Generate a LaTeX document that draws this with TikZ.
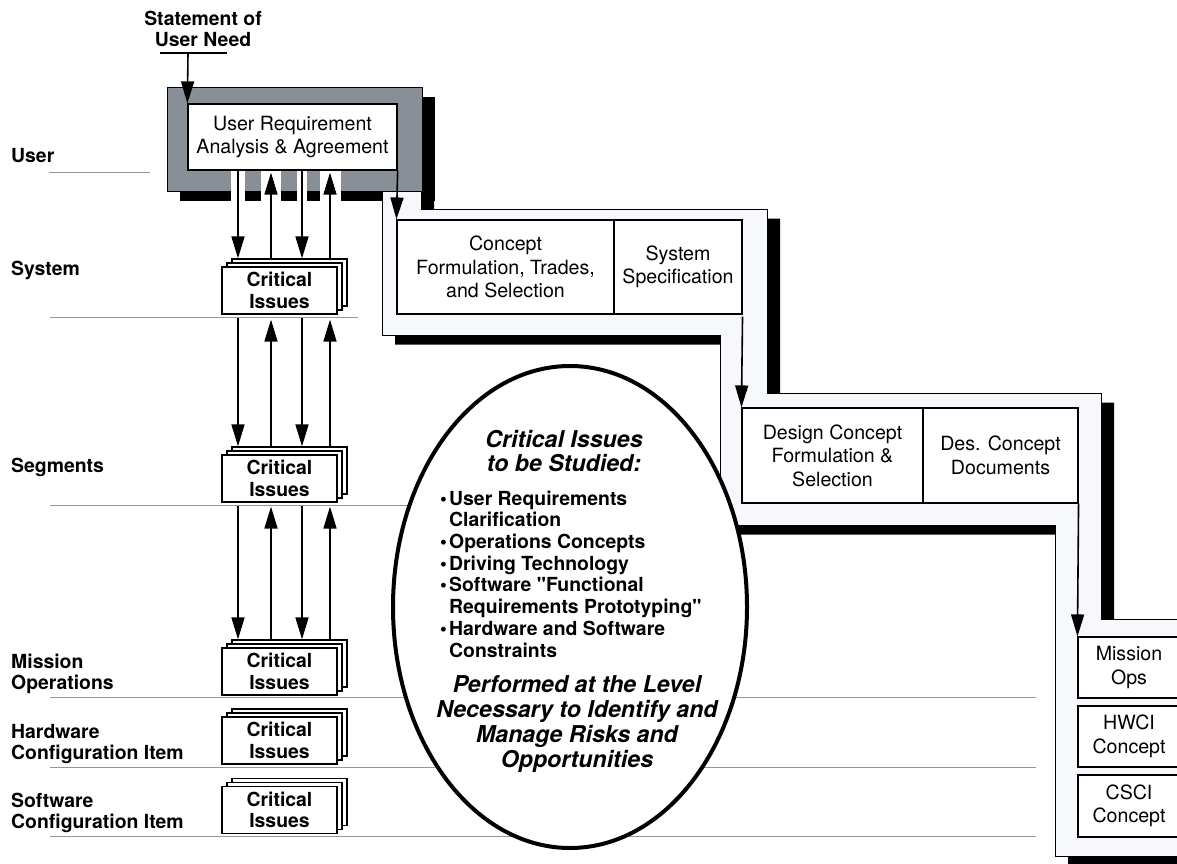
\documentclass[tikz,border=0pt]{standalone}
\usepackage{fontspec}
\setmainfont{TeX Gyre Heros}
\usepackage{tikz}
\usetikzlibrary{shapes.geometric,shadows,arrows.meta}

\definecolor{framegray}{RGB}{137,143,150}
\definecolor{bandfill}{RGB}{247,248,251}
\definecolor{tiergray}{RGB}{150,150,150}

\newcommand{\boxfont}{\fontsize{19.6}{23.4}\selectfont}
\newcommand{\tierfont}{\fontsize{19.4}{21.7}\selectfont\bfseries}
\newcommand{\notefont}{\fontsize{23.2}{24.8}\selectfont\bfseries\itshape}
\newcommand{\itembullet}{\makebox[9pt][l]{\textbullet}}
% straight double quote, set as a glyph
\newcommand{\dq}{\XeTeXglyph\XeTeXcharglyph"0022\relax}

\tikzset{
    tier/.style={draw=tiergray, line width=0.9pt},
    tierlabel/.style={anchor=west, inner sep=0pt, align=left, font=\tierfont},
    stagebox/.style={draw, fill=white, line width=1.1pt, inner sep=0pt, align=center, font=\boxfont},
    cibox/.style={draw, fill=white, line width=1.3pt, inner sep=0pt, minimum width=115pt, minimum height=47pt, align=center, font=\tierfont},
    flowarrow/.style={line width=1.6pt, -{Triangle[length=22pt,width=13pt]}},
    solidshadow/.style={drop shadow={shadow xshift=13pt, shadow yshift=-9.5pt, fill=black, opacity=1}},
}

% three stacked cards: #1 name, #2 x, #3 y
\newcommand{\issuestack}[3]{
    \node[cibox] (#13) at (#2+10,#3-8) {};
    \node[cibox] (#12) at (#2+5,#3-4) {};
    \node[cibox] (#1) at (#2,#3) {Critical\\Issues};
}

\begin{document}
\begin{tikzpicture}[x=1pt,y=-1pt]
        \useasboundingbox (0,0) rectangle (1177,864);

        % levels
        \draw[tier] (49,172) -- (150,172);
        \draw[tier] (50,317) -- (358,317);
        \draw[tier] (50,505) -- (720,505);
        \draw[tier] (50,697) -- (1036,697);
        \draw[tier] (50,767) -- (1036,767);
        \draw[tier] (50,836) -- (1036,836);
        \node[tierlabel, anchor=base west] (luser) at (11,162) {User};
        \node[tierlabel, anchor=base west] (lsys) at (11,275) {System};
        \node[tierlabel, anchor=base west] (lseg) at (11,472) {Segments};
        \node[tierlabel] (lmis) at (11,674) {Mission\\Operations};
        \node[tierlabel] (lhw) at (11,744) {Hardware\\Configuration Item};
        \node[tierlabel] (lsw) at (11,813) {Software\\Configuration Item};

        % user frame
        \draw[fill=framegray, line width=1pt, solidshadow] (167,88) rectangle (422,191);

        % staircase band
        \draw[fill=bandfill, line width=1pt, solidshadow] (382,191) -- (382,335) -- (720,335)
            -- (720,525) -- (1055,525) -- (1055,856) -- (1200,856) -- (1200,619) -- (1101,619)
            -- (1101,393) -- (767,393) -- (767,209) -- (421,209) -- (421,191) -- cycle;

        % gaps for the level arrows
        \foreach \sx/\sw in {238/7, 271/10, 302/5, 330/10.5}
            \fill[white] (\sx-\sw,171) rectangle (\sx+\sw,201);

        \node[stagebox, line width=1.3pt, minimum width=209pt, minimum height=66pt] (ura) at (292.5,137)
            {User Requirement\\Analysis \& Agreement};

        % statement of need
        \node[tierlabel, align=center, anchor=center] (needtxt) at (203,29) {Statement of\\User Need};
        \coordinate (needl) at (160,53);
        \coordinate (needr) at (227,53);
        \coordinate (need) at (188,53);
        \draw[line width=1.2pt] (needl) -- (needr);
        \draw[flowarrow] (need) -- (ura.north west);

        % stages
        \node[stagebox, minimum width=217pt, minimum height=94pt] (cf) at (505.5,267)
            {Concept\\Formulation, Trades,\\and Selection};
        \node[stagebox, minimum width=128pt, minimum height=94pt] (ss) at (678,267)
            {System\\Specification};
        \node[stagebox, minimum width=181pt, minimum height=95pt] (dc) at (832.5,455.5)
            {Design Concept\\Formulation \&\\Selection};
        \node[stagebox, minimum width=155pt, minimum height=95pt] (dd) at (1000.5,455.5)
            {Des. Concept\\Documents};
        \node[stagebox, minimum width=102pt, minimum height=61pt] (mo) at (1129,667.5) {Mission\\Ops};
        \node[stagebox, minimum width=102pt, minimum height=61pt] (hw) at (1129,736.5) {HWCI\\Concept};
        \node[stagebox, minimum width=102pt, minimum height=62pt] (cs) at (1129,806) {CSCI\\Concept};

        \draw[flowarrow] (ura.south east) -- (cf.north west);
        \draw[flowarrow, shorten <=2pt] (ss.south east) -- (dc.north west);
        \draw[flowarrow] (dd.south east) -- (mo.north west);

        % critical issues oval
        \node[draw, ellipse, fill=white, line width=4pt, minimum width=354pt, minimum height=482pt,
            inner sep=0pt] (oval) at (570,607) {};
        \node[font=\notefont, align=center, inner sep=0pt] (ovalhead) at (564,451)
            {Critical Issues\\to be Studied:};
        \node[tierlabel] (ovallist) at (440,574)
            {\itembullet User Requirements\\
             \hphantom{\itembullet}Clarification\\
             \itembullet Operations Concepts\\
             \itembullet Driving Technology\\
             \itembullet Software \dq Functional\\
             \hphantom{\itembullet}Requirements Prototyping\dq\\
             \itembullet Hardware and Software\\
             \hphantom{\itembullet}Constraints};
        \node[font=\notefont, align=center, inner sep=0pt] (ovalfoot) at (577,724)
            {Performed at the Level\\Necessary to Identify and\\Manage Risks and\\Opportunities};

        % critical issue stacks
        \issuestack{sys}{279.5}{290.5}
        \issuestack{seg}{279.5}{478.5}
        \issuestack{mis}{279.5}{671.5}
        \issuestack{hwc}{279.5}{740.5}
        \issuestack{swc}{279.5}{810}

        % arrows between levels
        \coordinate (c1) at (238,0);
        \coordinate (c2) at (271,0);
        \coordinate (c3) at (302,0);
        \coordinate (c4) at (330,0);
        \foreach \col in {c1,c3} {
            \draw[flowarrow] (ura.south -| \col) -- (sys3.north -| \col);
            \draw[flowarrow, shorten <=3pt] (sys.south -| \col) -- (seg3.north -| \col);
            \draw[flowarrow, shorten <=3pt] (seg.south -| \col) -- (mis3.north -| \col);
        }
        \foreach \col in {c2,c4} {
            \draw[flowarrow, shorten >=2pt] (sys3.north -| \col) -- (ura.south -| \col);
            \draw[flowarrow, shorten >=5pt] (seg3.north -| \col) -- (sys.south -| \col);
            \draw[flowarrow, shorten >=4pt] (mis3.north -| \col) -- (seg.south -| \col);
        }
\end{tikzpicture}
\end{document}
